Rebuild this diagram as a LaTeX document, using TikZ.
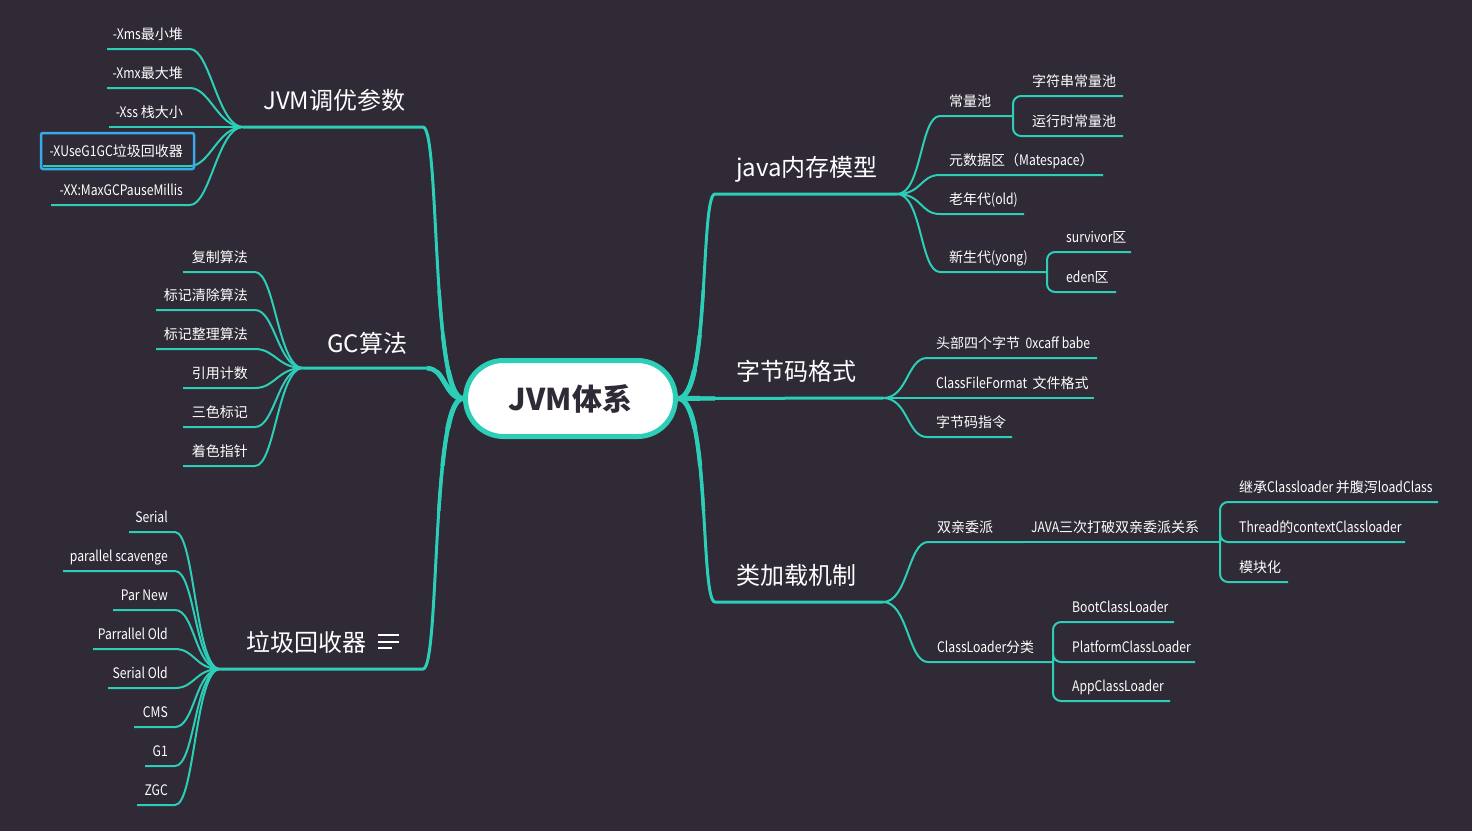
\documentclass[tikz,border=0pt]{standalone}
\usepackage{fontspec}
\usetikzlibrary{calc}
\newfontfamily\latfam[FakeStretch=0.84]{Noto Sans CJK SC}
\newfontfamily\cjkw{Noto Sans CJK SC}
\newcommand{\leaffont}{\latfam\fontsize{14.5}{17}\selectfont}
\newcommand{\Z}[1]{{\cjkw\fontsize{14}{17}\selectfont #1}}
\newcommand{\topicfont}{\cjkw\fontsize{24}{28}\selectfont}
\newcommand{\rootfont}{\cjkw\bfseries\fontsize{30}{34}\selectfont}
\definecolor{bg}{RGB}{47,42,53}
\definecolor{mmteal}{RGB}{45,206,184}
\definecolor{boxblue}{RGB}{56,170,235}
\tikzset{
  conn/.style={draw=mmteal, line width=2pt},
  mainconn/.style={draw=mmteal, line width=3pt},
  leaf/.style={text=white, font=\leaffont, inner sep=0pt},
  topic/.style={text=white, font=\topicfont, inner sep=0pt},
  rootnode/.style={draw=mmteal, line width=5pt, fill=white, rounded corners=38pt,
    minimum width=210pt, minimum height=76pt, text=bg, font=\rootfont},
}
% left leaf: name, xl, xr, y, hub, text
\newcommand{\LLeaf}[6]{%
  \coordinate (#1-l) at (#2,#4);
  \coordinate (#1-r) at (#3,#4);
  \node[leaf, anchor=base east] (#1) at ($(#1-r)+(-7,-10)$) {#6};
  \draw[conn] (#1-l) -- (#1-r) .. controls +(20,0) and +(-25,0) .. (#5);
}
% right leaf: name, xl, xr, y, hub, text
\newcommand{\RLeaf}[6]{%
  \coordinate (#1-l) at (#2,#4);
  \coordinate (#1-r) at (#3,#4);
  \node[leaf, anchor=base west] (#1) at ($(#1-l)+(9,-10)$) {#6};
  \draw[conn] (#5) .. controls +(25,0) and +(-20,0) .. (#1-l) -- (#1-r);
}
% bracket leaf: name, xb, xr, y, hub, text
\newcommand{\BLeaf}[6]{%
  \coordinate (#1-r) at (#3,#4);
  \node[leaf, anchor=base west] (#1) at ($(#2,#4)+(19,-10)$) {#6};
  \draw[conn, rounded corners=8pt] (#5) |- (#1-r);
}
% main branch roots drawn with a given width (for the taper)
\newcommand{\LeftRoots}[1]{%
  \draw[mmteal, line width=#1] (jvmend) .. controls +(17,0) and +(-32,0) .. (root.west);
  \draw[mmteal, line width=#1] (gcend) .. controls +(18,0) and +(-18,0) .. (root.west);
  \draw[mmteal, line width=#1] (gcrend) .. controls +(17,0) and +(-32,0) .. (root.west);
}
\newcommand{\RightRoots}[1]{%
  \draw[mmteal, line width=#1] (root.east) .. controls +(32,0) and +(-15,0) .. (memstart);
  \draw[mmteal, line width=#1] (root.east) -- (bchub);
  \draw[mmteal, line width=#1] (root.east) .. controls +(32,0) and +(-15,0) .. (clstart);
}
\begin{document}
\begin{tikzpicture}[x=1pt,y=-1pt]
\fill[bg] (0,0) rectangle (1472,831);
\useasboundingbox (0,0) rectangle (1472,831);

% ---------- root (placed first for anchors) ----------
\path node[rootnode, draw=none, fill=none, text opacity=0] (root) at (570.5,398.5) {JVM体系};

% ---------- JVM调优参数 ----------
\coordinate (jvmhub) at (243,127);
\coordinate (jvmend) at (423,127);
\node[topic, anchor=base west] (jvm) at (263,109) {JVM调优参数};
\draw[mainconn] (jvmhub) -- (jvmend) .. controls +(17,0) and +(-32,0) .. (root.west);
\LLeaf{xms}{107}{190}{49}{jvmhub}{-Xms\Z{最小堆}}
\LLeaf{xmx}{107}{190}{88}{jvmhub}{-Xmx\Z{最大堆}}
\LLeaf{xss}{109}{190}{127}{jvmhub}{-Xss \Z{栈大小}}
\LLeaf{g1gc}{43}{190}{166}{jvmhub}{-XUseG1GC\Z{垃圾回收器}}
\LLeaf{maxgc}{51}{190}{205}{jvmhub}{-XX:MaxGCPauseMillis}
\draw[boxblue, line width=2.5pt, rounded corners=2pt] (41,133) rectangle (194,169);

% ---------- GC算法 ----------
\coordinate (gchub) at (303,368);
\coordinate (gcend) at (427,368);
\node[topic, anchor=base west] (gc) at (327,352) {GC算法};
\draw[mainconn] (gchub) -- (gcend) .. controls +(18,0) and +(-18,0) .. (root.west);
\LLeaf{copy}{183}{255}{272}{gchub}{\Z{复制算法}}
\LLeaf{marksweep}{156}{255}{310}{gchub}{\Z{标记清除算法}}
\LLeaf{markcompact}{156}{255}{349}{gchub}{\Z{标记整理算法}}
\LLeaf{refcount}{183}{255}{388}{gchub}{\Z{引用计数}}
\LLeaf{tricolor}{183}{255}{427}{gchub}{\Z{三色标记}}
\LLeaf{colorptr}{183}{255}{466}{gchub}{\Z{着色指针}}

% ---------- 垃圾回收器 ----------
\coordinate (gcrhub) at (220,669);
\coordinate (gcrend) at (423,669);
\node[topic, anchor=base west] (gcr) at (246,651) {垃圾回收器};
\draw[mainconn] (gcrhub) -- (gcrend) .. controls +(17,0) and +(-32,0) .. (root.west);
\draw[white, line width=2pt] (378,635) -- (399,635) (378,642) -- (399,642) (378,648) -- (392,648);
\LLeaf{serial}{129}{175}{532}{gcrhub}{Serial}
\LLeaf{ps}{63}{175}{571}{gcrhub}{parallel scavenge}
\LLeaf{parnew}{113}{175}{610}{gcrhub}{Par New}
\LLeaf{po}{93}{175}{649}{gcrhub}{Parrallel Old}
\LLeaf{so}{108}{175}{688}{gcrhub}{Serial Old}
\LLeaf{cms}{134}{175}{727}{gcrhub}{CMS}
\LLeaf{gone}{145}{175}{766}{gcrhub}{G1}
\LLeaf{zgc}{137}{175}{805}{gcrhub}{ZGC}

% ---------- java内存模型 ----------
\coordinate (memstart) at (715,194);
\coordinate (memhub) at (897,194);
\node[topic, anchor=base west] (mem) at (736,176) {java内存模型};
\draw[mainconn] (root.east) .. controls +(32,0) and +(-15,0) .. (memstart) -- (memhub);
\RLeaf{pool}{940}{1013}{116}{memhub}{\Z{常量池}}
\coordinate (poolhub) at (1013,116);
\BLeaf{strpool}{1013}{1123}{96}{poolhub}{\Z{字符串常量池}}
\BLeaf{rtpool}{1013}{1123}{136}{poolhub}{\Z{运行时常量池}}
\RLeaf{meta}{940}{1103}{175}{memhub}{\Z{元数据区（}Matespace\Z{）}}
\RLeaf{old}{940}{1024}{214}{memhub}{\Z{老年代}(old)}
\RLeaf{young}{940}{1047}{272}{memhub}{\Z{新生代}(yong)}
\coordinate (younghub) at (1047,272);
\BLeaf{survivor}{1047}{1131}{252}{younghub}{survivor\Z{区}}
\BLeaf{eden}{1047}{1116}{292}{younghub}{eden\Z{区}}

% ---------- 字节码格式 ----------
\coordinate (bchub) at (883,398);
\node[topic, anchor=base west] (bc) at (736,380) {字节码格式};
\draw[mainconn] (root.east) -- (bchub);
\RLeaf{header}{927}{1097}{358}{bchub}{\Z{头部四个字节}\ \ 0xcaff babe}
\RLeaf{cff}{927}{1094}{398}{bchub}{ClassFileFormat\ \ \Z{文件格式}}
\RLeaf{instr}{927}{1012}{437}{bchub}{\Z{字节码指令}}

% ---------- 类加载机制 ----------
\coordinate (clstart) at (715,602);
\coordinate (clhub) at (883,602);
\node[topic, anchor=base west] (cl) at (736,584) {类加载机制};
\draw[mainconn] (root.east) .. controls +(32,0) and +(-15,0) .. (clstart) -- (clhub);
\RLeaf{parent}{928}{1024}{542}{clhub}{\Z{双亲委派}}
\coordinate (breakhub) at (1220,542);
\node[leaf, anchor=base west] (break) at (1031,532) {JAVA\Z{三次打破双亲委派关系}};
\draw[conn] (parent-r) -- (breakhub);
\BLeaf{inherit}{1220}{1438}{502}{breakhub}{\Z{继承}Classloader \Z{并腹泻}loadClass}
\BLeaf{thread}{1220}{1405}{542}{breakhub}{Thread\Z{的}contextClassloader}
\BLeaf{module}{1220}{1288}{582}{breakhub}{\Z{模块化}}
\RLeaf{clcat}{928}{1053}{662}{clhub}{ClassLoader\Z{分类}}
\coordinate (clcathub) at (1053,662);
\BLeaf{boot}{1053}{1174}{622}{clcathub}{BootClassLoader}
\BLeaf{platform}{1053}{1195}{662}{clcathub}{PlatformClassLoader}
\BLeaf{app}{1053}{1170}{701}{clcathub}{AppClassLoader}

% ---------- tapered roots of the main branches ----------
\begin{scope}\clip (425,290) rectangle (470,510); \LeftRoots{3.5pt}\end{scope}
\begin{scope}\clip (425,335) rectangle (470,465); \LeftRoots{4.2pt}\end{scope}
\begin{scope}\clip (425,370) rectangle (470,428); \LeftRoots{5pt}\end{scope}
\begin{scope}\clip (668,290) rectangle (715,510); \RightRoots{3.5pt}\end{scope}
\begin{scope}\clip (668,335) rectangle (715,465); \RightRoots{4.2pt}\end{scope}
\begin{scope}\clip (668,370) rectangle (700,428); \RightRoots{5pt}\end{scope}

% ---------- root drawn on top ----------
\node[rootnode] (rootbox) at (root.center) {JVM体系};
\end{tikzpicture}
\end{document}
